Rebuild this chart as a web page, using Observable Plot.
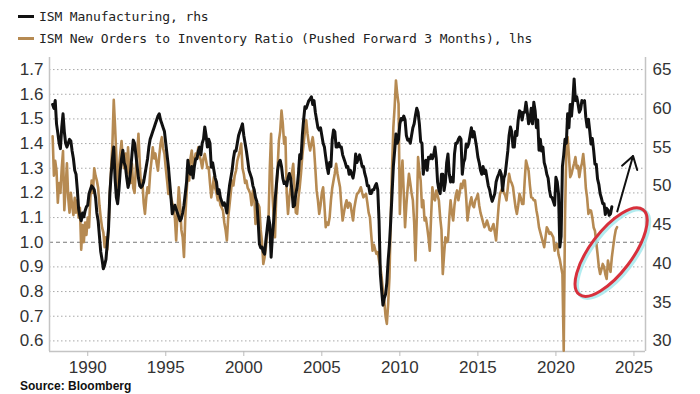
<!DOCTYPE html>
<html>
<head>
<meta charset="utf-8">
<script src="https://cdn.jsdelivr.net/npm/d3@7"></script>
<script src="https://cdn.jsdelivr.net/npm/@observablehq/plot@0.6"></script>
<style>
  html, body { margin: 0; padding: 0; background: #fff; }
  #wrap { width: 700px; height: 394px; overflow: hidden; position: relative; }
  #legend { height: 50px; box-sizing: border-box; padding: 6px 0 0 18px;
    font-family: "DejaVu Sans Mono", "Liberation Mono", monospace; font-size: 13px; letter-spacing: -0.12px; color: #222; }
  .row { height: 22px; line-height: 22px; white-space: nowrap; }
  .sw { display: inline-block; width: 16px; height: 3px; vertical-align: middle; margin-right: 5px; position: relative; top: -1px; }
  #source { margin-top: 0px; padding-left: 20px; font-family: "Liberation Sans", Arial, sans-serif; font-weight: bold; font-size: 12px; color: #111; line-height: 13px; }
  svg { display: block; }
</style>
</head>
<body>
<div id="wrap">
  <div id="legend">
    <div class="row"><span class="sw" style="background:#111"></span>ISM Manufacturing, rhs</div>
    <div class="row"><span class="sw" style="background:#b68a52"></span>ISM New Orders to Inventory Ratio (Pushed Forward 3 Months), lhs</div>
  </div>
  <div id="chart"></div>
  <div id="source">Source: Bloomberg</div>
</div>
<script>
// Monthly series, first value = October 1987
const startYear = 1987;
const startMonth = 10;

// ISM Manufacturing PMI (right axis), Oct 1987 - Aug 2023
const ismManufacturing = [
  60.5, 60.0, 61.0,
  58.0, 56.8, 55.5, 54.8, 57.5, 59.3, 57.0, 55.5, 55.0, 55.5, 56.0, 55.8,
  54.5, 53.5, 52.0, 51.5, 49.5, 47.0, 46.0, 45.5, 46.5, 46.0, 46.8, 47.3,
  47.5, 49.0, 49.5, 50.0, 49.8, 49.5, 48.5, 46.5, 45.5, 43.5, 41.5, 40.5,
  39.3, 39.8, 40.5, 42.5, 44.5, 49.0, 51.5, 53.5, 55.0, 51.0, 48.5, 47.7,
  49.5, 52.0, 53.5, 54.6, 53.0, 52.5, 51.0, 49.8, 50.5, 52.0, 54.0, 55.9,
  55.5, 54.0, 52.5, 51.0, 50.0, 49.8, 50.0, 50.5, 51.5, 52.5, 53.5, 55.0,
  56.0, 56.5, 57.0, 57.5, 58.0, 58.5, 59.0, 59.3, 58.5, 58.0, 57.5, 57.0,
  55.5, 54.0, 52.5, 50.5, 48.5, 46.4, 47.0, 47.5, 47.0, 46.5, 46.0, 45.5,
  45.8, 46.5, 47.5, 49.0, 50.5, 53.3, 52.0, 51.5, 52.5, 51.0, 52.5, 53.5,
  53.5, 54.5, 55.0, 54.0, 55.5, 56.0, 57.6, 56.5, 55.0, 56.0, 55.5, 52.4,
  53.0, 52.0, 51.0, 50.5, 49.0, 49.5, 48.5, 48.0, 47.5, 47.8, 47.3, 46.5,
  48.5, 50.0, 51.0, 52.0, 53.5, 54.5, 54.5, 55.5, 56.5, 57.0, 57.5, 58.0,
  56.5, 55.5, 54.5, 53.3, 52.0, 51.5, 51.0, 50.0, 49.5, 48.5, 48.0, 45.5,
  42.5, 42.0, 42.1, 41.5, 41.2, 43.0, 44.5, 46.0, 45.0, 40.8, 43.5, 45.5,
  48.0, 50.0, 52.0, 53.0, 53.3, 52.5, 51.0, 50.3, 50.5, 50.0, 51.0, 51.6,
  51.0, 49.5, 47.3, 47.5, 49.0, 49.8, 51.5, 54.0, 53.5, 56.5, 58.5, 60.2,
  60.0, 60.5, 61.0, 61.2, 61.5, 60.5, 61.0, 59.5, 58.5, 57.5, 57.2, 57.5,
  56.5, 55.5, 55.0, 53.7, 52.5, 51.6, 53.0, 52.5, 56.0, 57.2, 57.0, 55.0,
  55.0, 55.5, 55.0, 55.0, 54.0, 53.5, 53.0, 52.4, 52.5, 51.5, 52.0, 51.5,
  51.0, 52.0, 54.1, 53.0, 53.5, 54.0, 53.3, 52.5, 52.5, 51.6, 51.0, 50.0,
  50.0, 49.0, 49.0, 49.5, 49.5, 50.0, 50.3, 49.5, 45.5, 38.6, 36.5, 34.6,
  35.5, 36.0, 37.5, 40.4, 42.5, 45.5, 49.0, 52.5, 54.5, 56.7, 55.5, 56.0,
  58.0, 58.7, 58.5, 59.0, 58.5, 56.5, 55.9, 56.0, 55.5, 56.5, 57.5, 58.0,
  59.1, 60.0, 59.5, 58.0, 55.7, 55.5, 51.5, 53.0, 53.3, 52.0, 53.7, 53.5,
  54.0, 53.5, 54.0, 55.0, 53.5, 50.5, 49.5, 49.0, 51.5, 51.5, 49.4, 50.5,
  53.0, 54.1, 51.5, 50.5, 51.1, 50.5, 54.1, 55.5, 55.5, 56.0, 56.3, 56.0,
  51.5, 53.0, 53.5, 55.4, 55.0, 55.5, 56.5, 57.5, 56.3, 57.0, 56.0, 55.0,
  53.7, 53.0, 52.0, 51.5, 52.5, 51.6, 52.0, 51.0, 50.0, 49.5, 48.6, 48.0,
  48.5, 49.0, 50.5, 51.1, 51.5, 52.0, 51.5, 49.4, 51.0, 51.5, 53.0, 54.5,
  56.5, 57.6, 57.0, 55.0, 55.0, 57.0, 56.5, 58.5, 59.7, 59.5, 58.5, 59.5,
  59.5, 60.8, 59.5, 58.0, 58.5, 60.0, 58.0, 60.8, 59.7, 57.5, 58.5, 54.6,
  56.0, 54.5, 55.0, 53.0, 52.4, 51.5, 51.0, 49.5, 48.6, 48.5, 48.0, 47.5,
  51.1, 50.5, 49.0, 42.1, 43.5, 52.5, 54.0, 56.0, 55.5, 59.3, 57.5, 60.5,
  59.0, 61.0, 63.8, 61.0, 61.5, 60.6, 59.5, 59.9, 61.0, 60.8, 61.0, 58.8,
  57.6, 58.6, 57.1, 55.4, 56.1, 54.6, 52.8, 52.8, 50.9, 50.2, 49.0, 48.4,
  47.7, 47.7, 46.3, 47.1, 46.9, 46.2, 46.4, 47.3
];

// ISM New Orders / Inventories ratio, pushed forward 3 months (left axis), Oct 1987 - Dec 2023
const ordersInventoryRatio = [
  1.43, 1.27, 1.33,
  1.29, 1.16, 1.24, 1.20, 1.30, 1.37, 1.13, 1.22, 1.32, 1.18, 1.12, 1.20,
  1.15, 1.11, 1.18, 1.12, 1.17, 1.10, 1.14, 0.97, 1.07, 1.00, 1.08, 1.03,
  1.10, 1.06, 1.18, 1.25, 1.20, 1.30, 1.27, 1.25, 1.22, 1.15, 1.10, 1.06,
  1.04, 0.98, 1.02, 0.97, 1.06, 1.20, 1.30, 1.40, 1.577, 1.47, 1.35, 1.20,
  1.30, 1.36, 1.41, 1.33, 1.30, 1.36, 1.28, 1.385, 1.28, 1.24, 1.318, 1.22,
  1.20, 1.30, 1.36, 1.44, 1.32, 1.22, 1.25, 1.16, 1.115, 1.18, 1.223, 1.20,
  1.28, 1.33, 1.385, 1.34, 1.36, 1.32, 1.29, 1.35, 1.40, 1.426, 1.38, 1.358,
  1.30, 1.25, 1.196, 1.22, 1.18, 1.16, 1.142, 1.10, 1.007, 1.12, 1.223, 1.15,
  1.05, 1.02, 0.94, 1.10, 1.20, 1.29, 1.25, 1.34, 1.372, 1.31, 1.331, 1.36,
  1.34, 1.385, 1.35, 1.331, 1.30, 1.34, 1.358, 1.33, 1.30, 1.304, 1.24, 1.182,
  1.22, 1.264, 1.22, 1.20, 1.17, 1.19, 1.15, 1.14, 1.128, 1.08, 1.05, 1.007,
  1.10, 1.15, 1.20, 1.25, 1.23, 1.27, 1.29, 1.33, 1.35, 1.372, 1.40, 1.30,
  1.277, 1.24, 1.25, 1.22, 1.21, 1.196, 1.15, 1.21, 1.19, 1.074, 1.12, 1.155,
  1.142, 1.05, 1.00, 0.912, 0.939, 0.98, 1.04, 1.088, 1.30, 1.44, 1.20, 1.10,
  1.02, 1.20, 1.30, 1.412, 1.45, 1.534, 1.48, 1.40, 1.426, 1.20, 1.115, 1.18,
  1.223, 1.28, 1.318, 1.22, 1.12, 1.115, 1.18, 1.223, 1.28, 1.35, 1.399, 1.45,
  1.494, 1.44, 1.40, 1.372, 1.40, 1.426, 1.38, 1.30, 1.21, 1.17, 1.115, 1.15,
  1.20, 1.223, 1.15, 1.061, 1.08, 1.07, 1.101, 1.17, 1.22, 1.25, 1.28, 1.318,
  1.28, 1.25, 1.223, 1.15, 1.088, 1.12, 1.15, 1.17, 1.14, 1.16, 1.155, 1.12,
  1.088, 1.14, 1.17, 1.196, 1.20, 1.21, 1.223, 1.20, 1.182, 1.19, 1.196, 1.16,
  1.12, 1.101, 1.03, 0.966, 0.99, 0.97, 0.953, 0.96, 0.926, 0.90, 0.858, 0.80,
  0.763, 0.70, 0.669, 0.75, 0.858, 1.10, 1.30, 1.466, 1.55, 1.656, 1.60, 1.561,
  1.115, 1.25, 1.331, 1.20, 1.061, 1.15, 1.22, 1.277, 1.24, 1.20, 1.17, 1.08,
  0.926, 1.10, 1.345, 1.29, 1.25, 1.142, 1.17, 1.088, 1.10, 1.061, 1.02, 0.966,
  1.10, 1.223, 1.18, 1.17, 1.21, 1.19, 1.17, 1.10, 1.05, 0.871, 0.95, 1.02,
  1.00, 1.007, 1.10, 1.17, 1.12, 1.088, 1.15, 1.19, 1.21, 1.17, 1.20, 1.237,
  1.22, 1.25, 1.25, 1.18, 1.088, 1.13, 1.16, 1.182, 1.15, 1.142, 1.17, 1.18,
  1.196, 1.15, 1.12, 1.101, 1.08, 1.061, 1.07, 1.088, 1.07, 1.05, 1.047, 1.06,
  1.074, 1.04, 1.007, 1.08, 1.15, 1.196, 1.21, 1.223, 1.20, 1.19, 1.17, 1.22,
  1.277, 1.25, 1.24, 1.223, 1.18, 1.14, 1.115, 1.15, 1.196, 1.18, 1.155, 1.155,
  1.25, 1.331, 1.31, 1.29, 1.23, 1.182, 1.18, 1.17, 1.17, 1.13, 1.101, 1.06,
  1.04, 1.02, 1.00, 0.98, 1.02, 1.061, 1.05, 1.034, 1.04, 1.03, 1.02, 0.966,
  0.99, 0.993, 0.95, 0.93, 0.90, 0.871, 0.56, 1.10, 1.372, 1.426, 1.35, 1.264,
  1.277, 1.30, 1.32, 1.345, 1.30, 1.31, 1.264, 1.30, 1.32, 1.358, 1.304, 1.22,
  1.18, 1.115, 1.13, 1.128, 1.10, 1.06, 1.047, 1.00, 0.953, 0.90, 0.871, 0.89,
  0.912, 0.90, 0.87, 0.851, 0.926, 0.90, 0.88, 0.939, 0.98, 1.02, 1.05, 1.061
];

// Axis ticks
const xTicks = [1990, 1995, 2000, 2005, 2010, 2015, 2020, 2025];
const leftTicks = [0.6, 0.7, 0.8, 0.9, 1.0, 1.1, 1.2, 1.3, 1.4, 1.5, 1.6, 1.7];
const rightTicks = [30, 35, 40, 45, 50, 55, 60, 65];
const rightDomain = [30, 65];
const leftMatch = [0.6, 1.7];
const xDomain = [1987.55, 2025.74];
const yDomain = [0.557, 1.749];

// Annotations (data coordinates)
const arrowNote = [{x1: 2023.93, y1: 1.125, x2: 2024.94, y2: 1.350}];
const ellipseNote = {x: 2023.57, y: 0.958};

const rhsToLhs = d3.scaleLinear(rightDomain, leftMatch);
const t0 = startYear + (startMonth - 1) / 12;
const ismData = ismManufacturing.map((v, i) => ({t: t0 + i / 12, v}));
const ratioData = ordersInventoryRatio.map((v, i) => ({t: t0 + i / 12, v}));

const FONT = "'Liberation Sans', Arial, sans-serif";

const plot = Plot.plot({
  width: 700,
  height: 330,
  marginTop: 7,
  marginBottom: 29,
  marginLeft: 49,
  marginRight: 55,
  style: {fontFamily: FONT, fontSize: "17px", color: "#333", background: "#fff", overflow: "visible"},
  x: {domain: xDomain, label: null},
  y: {domain: yDomain, label: null},
  marks: [
    Plot.ruleY(leftTicks.filter(d => d !== 1.0), {stroke: "#a8a8a8", strokeWidth: 1, strokeDasharray: "1.5,2.5"}),
    Plot.ruleY([1.0], {stroke: "#777", strokeWidth: 1.2, strokeDasharray: "4,3"}),
    Plot.ruleX([xDomain[0], xDomain[1]], {stroke: "#c4c4c4", strokeWidth: 1.5}),
    Plot.ruleY([yDomain[0]], {stroke: "#c4c4c4", strokeWidth: 1.5}),
    Plot.axisY(leftTicks, {anchor: "left", tickSize: 0, tickPadding: 6, tickFormat: d => d.toFixed(1), label: null, fontSize: 17, fill: "#333"}),
    Plot.axisY(rightTicks, {anchor: "right", y: rhsToLhs, tickSize: 0, tickPadding: 7, tickFormat: d => String(d), label: null, fontSize: 17, fill: "#333"}),
    Plot.axisX(xTicks, {anchor: "bottom", tickSize: 5, tickPadding: 4, tickFormat: d => String(d), label: null, fontSize: 17, stroke: "#bbb", fill: "#333"}),
    Plot.line(ratioData, {x: "t", y: "v", stroke: "#b68a52", strokeWidth: 2.6}),
    Plot.line(ismData, {x: "t", y: d => rhsToLhs(d.v), stroke: "#111", strokeWidth: 3}),
    Plot.arrow(arrowNote, {x1: "x1", y1: "y1", x2: "x2", y2: "y2", stroke: "#111", strokeWidth: 2, headLength: 11, headAngle: 65})
  ]
});

// Red highlight ellipse positioned through the chart scales
const sx = plot.scale("x"), sy = plot.scale("y");
const cx = sx.apply(ellipseNote.x), cy = sy.apply(ellipseNote.y);
const g = d3.select(plot).append("g").attr("transform", `translate(${cx},${cy}) rotate(-53)`);
g.append("ellipse").attr("cx", 0).attr("cy", 2.5).attr("rx", 53).attr("ry", 21)
  .attr("fill", "none").attr("stroke", "#9fe7ec").attr("stroke-width", 4).attr("opacity", 0.8);
g.append("ellipse").attr("rx", 53).attr("ry", 21)
  .attr("fill", "none").attr("stroke", "#d8303c").attr("stroke-width", 3);

document.getElementById("chart").appendChild(plot);
</script>
</body>
</html>
